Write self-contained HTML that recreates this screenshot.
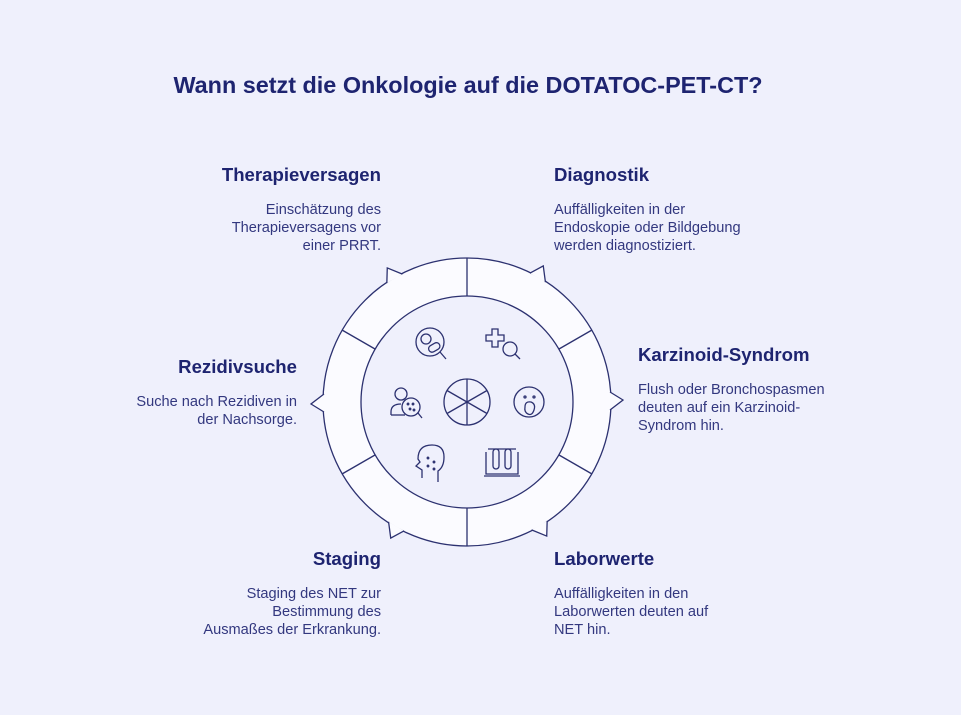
<!DOCTYPE html>
<html><head><meta charset="utf-8"><style>
html,body{margin:0;padding:0;}
body{width:961px;height:715px;background:#eff0fc;position:relative;overflow:hidden;font-family:"Liberation Sans",sans-serif;}
.t{position:absolute;color:#1e2470;}
h1{position:absolute;left:0;width:936px;top:72px;margin:0;text-align:center;font-size:23.4px;font-weight:bold;color:#1e2470;}
.h{font-size:18.6px;font-weight:bold;}
.b{font-size:14.6px;line-height:18px;color:#33387f;margin-top:15px;}
.r{text-align:right;}
</style></head><body>
<h1>Wann setzt die Onkologie auf die DOTATOC-PET-CT?</h1>
<svg width="961" height="715" style="position:absolute;left:0;top:0">
<g transform="translate(467,402)" stroke="#2c3170" stroke-width="1.3" fill="none">
<circle r="144" fill="#fbfbff"/>
<g fill="#fbfbff" stroke-linejoin="miter">
<path d="M143,-10 L156,-2 L143,8" transform="rotate(0)"/>
<path d="M143,-10 L156,-2 L143,8" transform="rotate(60)"/>
<path d="M143,-10 L156,-2 L143,8" transform="rotate(120)"/>
<path d="M143,-10 L156,-2 L143,8" transform="rotate(180)"/>
<path d="M143,-10 L156,-2 L143,8" transform="rotate(240)"/>
<path d="M143,-10 L156,-2 L143,8" transform="rotate(300)"/>
</g>
<circle r="144" fill="none" stroke="#fbfbff" stroke-width="0"/>
<circle r="106" fill="#eff0fc"/>
<line x1="0" y1="-106" x2="0" y2="-144"/>
<line x1="0" y1="106" x2="0" y2="144"/>
<line x1="92" y1="-53" x2="125" y2="-72"/>
<line x1="92" y1="53" x2="125" y2="72"/>
<line x1="-92" y1="-53" x2="-125" y2="-72"/>
<line x1="-92" y1="53" x2="-125" y2="72"/>
<circle r="23"/>
<line x1="0" y1="-23" x2="0" y2="23"/>
<line x1="-20" y1="-11.5" x2="20" y2="11.5"/>
<line x1="-20" y1="11.5" x2="20" y2="-11.5"/>
<g transform="translate(-37,-60)"><circle r="14"/><circle cx="-4" cy="-3" r="5"/><rect x="-2" y="2" width="12" height="7" rx="3.5" transform="rotate(-30 4 5)"/><line x1="10" y1="10" x2="16" y2="17"/></g>
<g transform="translate(35,-60)"><path d="M-10,-13 h6 v6 h6 v6 h-6 v6 h-6 v-6 h-6 v-6 h6z"/><circle cx="8" cy="7" r="7"/><line x1="13" y1="12" x2="18" y2="17"/></g>
<g transform="translate(62,0)"><circle r="15"/><circle cx="-4" cy="-5" r="1"/><circle cx="5" cy="-5" r="1"/><path d="M-4,5 q0,-6 6,-5 q5,2 3,8 q-2,6 -6,4 q-4,-2 -3,-7z"/></g>
<g transform="translate(35,60)"><path d="M-16,-10 v22 h32 v-22"/><line x1="-18" y1="14" x2="18" y2="14"/><rect x="-9" y="-13" width="6" height="20" rx="3"/><rect x="3" y="-13" width="6" height="20" rx="3"/><line x1="-14" y1="-13" x2="14" y2="-13"/></g>
<g transform="translate(-37,60)"><path d="M-8,16 v-8 l-6,-4 l4,-4 l-2,-3 q0,-14 14,-14 q12,0 12,12 q0,10 -6,14 v11"/><circle cx="-2" cy="-4" r=".8"/><circle cx="4" cy="0" r=".8"/><circle cx="-2" cy="4" r=".8"/><circle cx="4" cy="7" r=".8"/></g>
<g transform="translate(-60,0)"><circle cx="-6" cy="-8" r="6"/><path d="M-16,13 v-3 q0,-8 10,-8"/><line x1="-16" y1="13" x2="-2" y2="13"/><circle cx="4" cy="5" r="9"/><line x1="11" y1="11" x2="15" y2="16"/><circle cx="1" cy="2" r=".8"/><circle cx="6" cy="2" r=".8"/><circle cx="3" cy="7" r=".8"/><circle cx="7" cy="8" r=".8"/></g>
</g>
</svg>
<div class="t r" style="right:580px;top:164px;"><div class="h">Therapieversagen</div><div class="b">Einschätzung des<br>Therapieversagens vor<br>einer PRRT.</div></div>
<div class="t" style="left:554px;top:164px;"><div class="h">Diagnostik</div><div class="b">Auffälligkeiten in der<br>Endoskopie oder Bildgebung<br>werden diagnostiziert.</div></div>
<div class="t r" style="right:664px;top:356px;"><div class="h">Rezidivsuche</div><div class="b">Suche nach Rezidiven in<br>der Nachsorge.</div></div>
<div class="t" style="left:638px;top:344px;"><div class="h">Karzinoid-Syndrom</div><div class="b">Flush oder Bronchospasmen<br>deuten auf ein Karzinoid-<br>Syndrom hin.</div></div>
<div class="t r" style="right:580px;top:548px;"><div class="h">Staging</div><div class="b">Staging des NET zur<br>Bestimmung des<br>Ausmaßes der Erkrankung.</div></div>
<div class="t" style="left:554px;top:548px;"><div class="h">Laborwerte</div><div class="b">Auffälligkeiten in den<br>Laborwerten deuten auf<br>NET hin.</div></div>
</body></html>
